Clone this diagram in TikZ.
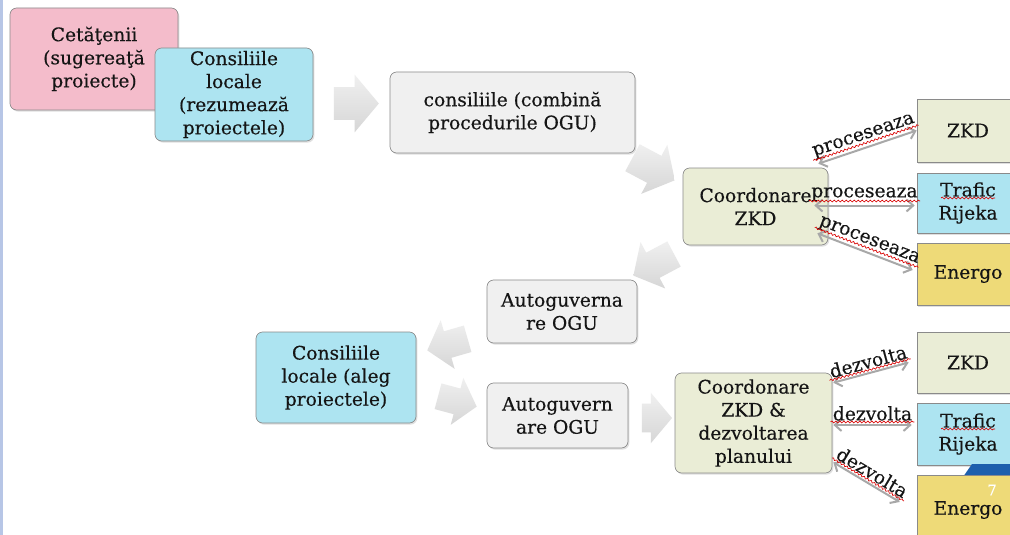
\documentclass[tikz,border=0pt]{standalone}
\usepackage{fontspec}
\setmainfont{DejaVu Serif}[FakeBold=0.35]
\usetikzlibrary{shapes.arrows,shadows,decorations.pathmorphing,calc,arrows.meta}
\definecolor{pinkbox}{HTML}{F4BCCB}
\definecolor{cyanbox}{HTML}{ADE4F1}
\definecolor{graybox}{HTML}{F0F0F0}
\definecolor{beigebox}{HTML}{EAEDD6}
\definecolor{yellowbox}{HTML}{EEDA78}
\definecolor{edgegray}{HTML}{8A8A8A}
\definecolor{txt}{HTML}{151515}
\definecolor{linkgray}{HTML}{A8A8A8}
\definecolor{stripblue}{HTML}{B7C6E6}
\definecolor{footblue}{HTML}{1D5FAD}
\tikzset{
  wh/.style 2 args={minimum width=#1*0.75pt, minimum height=#2*0.75pt},
  basebox/.style={draw=edgegray, line width=0.5pt, align=center, text=txt,
    font=\fontsize{14}{17.3}\selectfont, inner sep=1pt,
    drop shadow={shadow xshift=1pt, shadow yshift=-1.2pt, opacity=0.25}},
  rbox/.style={basebox, rounded corners=5pt},
  sbox/.style={basebox},
  link/.style={draw=linkgray, line width=1.5pt,
    {Straight Barb[length=5pt,width=9pt]}-{Straight Barb[length=5pt,width=9pt]}},
  lab/.style={font=\fontsize{14}{16}\selectfont, text=txt, inner sep=1pt, sloped, above=1.5pt},
  wavy/.style={draw=red!85!black, line width=0.5pt, decorate,
    decoration={snake, segment length=3pt, amplitude=0.7pt}},
  barrow/.style n args={3}{single arrow, draw=none, inner xsep=0pt,
    inner ysep=#2*0.375pt, top color=gray!12, bottom color=gray!32,
    minimum height=#1*0.75pt,
    single arrow head extend=#3*0.75pt, single arrow tip angle=100}
}
\begin{document}
\begin{tikzpicture}[x=0.75pt,y=-0.75pt]
\useasboundingbox (0,0) rectangle (1010,535);
\clip (0,0) rectangle (1010,535);
\fill[white] (0,0) rectangle (1010,535);
\fill[stripblue] (0,0) rectangle (2.5,535);

% top row
\node[rbox, fill=pinkbox, wh={168}{102}] (cet) at (94,59) {Cetăţenii\\(sugereaţă\\proiecte)};
\node[rbox, fill=cyanbox, wh={158}{93}] (cl1) at (234,94.5) {Consiliile\\locale\\(rezumează\\proiectele)};
\node[rbox, fill=graybox, wh={245}{81}] (comb) at (512.5,112.5) {consiliile (combină\\procedurile OGU)};
\node[rbox, fill=beigebox, wh={145}{77}] (coord1) at (755.5,206.5) {Coordonare\\ZKD};

% right upper boxes
\node[sbox, fill=beigebox, wh={102}{63}] (zkd1) at (968,130.5) {ZKD};
\node[sbox, fill=cyanbox, wh={102}{60}] (traf1) at (968,203) {Trafic\\Rijeka};
\node[sbox, fill=yellowbox, wh={102}{62}] (ener1) at (968,274) {Energo};

% lower part
\node[rbox, fill=graybox, wh={150}{63}] (auto1) at (562,311.5) {Autoguverna\\re OGU};
\node[rbox, fill=cyanbox, wh={160}{91}] (cl2) at (336,377.5) {Consiliile\\locale (aleg\\proiectele)};
\node[rbox, fill=graybox, wh={141}{65}] (auto2) at (557.5,415.5) {Autoguvern\\are OGU};
\node[rbox, fill=beigebox, wh={157}{100}] (coord2) at (753.5,423) {Coordonare\\ZKD \&\\dezvoltarea\\planului};

\node[sbox, fill=beigebox, wh={102}{61}] (zkd2) at (968,362.5) {ZKD};
\node[sbox, fill=cyanbox, wh={102}{62}] (traf2) at (968,434) {Trafic\\Rijeka};
\fill[footblue] (963,477) -- (972,464) -- (1012,464) -- (1012,477) -- cycle;
\node[sbox, fill=yellowbox, wh={102}{70}] (ener2) at (968,510) {Energo};
\node[text=white, font=\fontsize{11}{12}\selectfont, inner sep=0pt] (pgnum) at (992,490) {7};

% block arrows
\node[barrow={45}{32}{12.5}] (a1) at (349.5,103.5) {};
\node[barrow={48}{30}{12.5}, rotate=-28] (a2) at (648,166) {};
\node[barrow={46}{28}{12}, rotate=208] (a3) at (659,262) {};
\node[barrow={42}{27}{11.5}, rotate=196] (a4) at (453,343) {};
\node[barrow={40}{26}{11}, rotate=-15] (a5) at (452,400) {};
\node[barrow={30}{28}{11}] (a6) at (651,418) {};

% links upper
\draw[link] ($(coord1.north east)+(-10,-4)$) -- node[lab] (p1) {proceseaza} (zkd1.west);
\draw[link] ($(coord1.east)+(-14,-1)$) -- node[lab] (p2) {proceseaza} ($(coord1.east -| traf1.west)+(-2,-1)$);
\draw[link] ($(coord1.south east)+(-11,-12)$) -- node[lab] (p3) {proceseaza} ($(ener1.west)+(-4,-4)$);
% links lower
\draw[link] ($(coord2.north east)+(1,10)$) -- node[lab] (d1) {dezvolta} ($(zkd2.west)+(-8,0)$);
\draw[link] ($(coord2.east)+(1,2)$) -- node[lab] (d2) {dezvolta} ($(coord2.east -| traf2.west)+(-5,2)$);
\draw[link] ($(coord2.south east)+(1,-11)$) -- node[lab] (d3) {dezvolta} ($(ener2.west)+(-17,-8)$);

% spell-check underlines
\foreach \n in {p1,p2,p3,d1,d2,d3}{
  \draw[wavy] ($(\n.base west)!0.6!(\n.south west)$) -- ($(\n.base east)!0.6!(\n.south east)$);
}
\draw[wavy] ($(traf1.center)+(-27,-5)$) -- ($(traf1.center)+(27,-5)$);
\draw[wavy] ($(traf2.center)+(-27,-5)$) -- ($(traf2.center)+(27,-5)$);
\end{tikzpicture}
\end{document}
